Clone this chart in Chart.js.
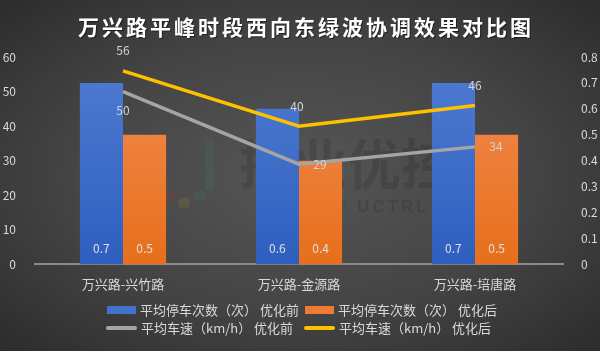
<!DOCTYPE html>
<html>
<head>
<meta charset="utf-8">
<script src="https://cdn.jsdelivr.net/npm/chart.js@4.4.0/dist/chart.umd.min.js"></script>
<style>
  html, body { margin: 0; padding: 0; }
  body {
    width: 600px; height: 351px; overflow: hidden; position: relative;
    background: radial-gradient(ellipse at 50% 50%, #565656 0%, #444 55%, #2c2c2c 100%);
    font-family: "Noto Sans CJK SC", sans-serif;
  }
  #legend {
    position: absolute; left: 107px; top: 301px;
    display: grid; grid-template-columns: 198px auto;
    color: #d9d9d9; font-size: 13px; line-height: 18px;
  }
  #legend .item { display: flex; align-items: center; white-space: nowrap; }
  #legend .sw { margin-right: 4px; }
</style>
</head>
<body>
<canvas id="chart" width="600" height="351"></canvas>
<div id="legend"></div>
<script>
const categories = ['万兴路-兴竹路', '万兴路-金源路', '万兴路-培唐路'];
const stopsBefore = [0.7, 0.6, 0.7];
const stopsAfter = [0.5, 0.4, 0.5];
const speedBefore = [50, 29, 34];
const speedAfter = [56, 40, 46];
const leftTicks = [0, 10, 20, 30, 40, 50, 60];
const rightTicks = [0, 0.1, 0.2, 0.3, 0.4, 0.5, 0.6, 0.7, 0.8];

const chartTitle = '万兴路平峰时段西向东绿波协调效果对比图';
const seriesNames = ['平均停车次数（次） 优化前', '平均停车次数（次） 优化后', '平均车速（km/h） 优化前', '平均车速（km/h） 优化后'];

function barGradient(top, bottom) {
  return function (ctx) {
    const area = ctx.chart.chartArea;
    if (!area) return bottom;
    const g = ctx.chart.ctx.createLinearGradient(0, area.top, 0, area.bottom);
    g.addColorStop(0, top);
    g.addColorStop(1, bottom);
    return g;
  };
}

// data labels: bars at the bottom inside, lines with per-point offsets
const valueLabels = {
  id: 'valueLabels',
  afterDatasetsDraw(chart) {
    const ctx = chart.ctx;
    ctx.save();
    ctx.font = '12px "Noto Sans CJK SC"';
    ctx.textAlign = 'center';
    ctx.textBaseline = 'middle';
    chart.data.datasets.forEach((ds, i) => {
      const meta = chart.getDatasetMeta(i);
      meta.data.forEach((el, j) => {
        const v = ds.data[j];
        if (ds.type === 'bar') {
          ctx.fillStyle = '#e0e0e0';
          ctx.fillText(v, el.x, el.base - 16);
        } else {
          const off = ds.labelOffset[j];
          ctx.fillStyle = '#d4d4d4';
          ctx.fillText(v, el.x + off[0], el.y + off[1]);
        }
      });
    });
    ctx.restore();
  }
};

// title with letter spacing (chart.js title has none)
const spacedTitle = {
  id: 'spacedTitle',
  afterDraw(chart) {
    const ctx = chart.ctx;
    ctx.save();
    ctx.letterSpacing = '3px';
    ctx.font = 'bold 21px "Noto Sans CJK SC"';
    ctx.textAlign = 'center';
    ctx.textBaseline = 'middle';
    ctx.fillStyle = 'rgba(0,0,0,0.5)';
    ctx.fillText(chartTitle, 307, 28);
    ctx.fillStyle = '#ffffff';
    ctx.fillText(chartTitle, 306, 27);
    ctx.restore();
  }
};

const watermark = {
  id: 'watermark',
  beforeDatasetsDraw(chart) {
    const ctx = chart.ctx;
    ctx.save();
    ctx.globalAlpha = 0.12;
    ctx.fillStyle = '#d04020';
    ctx.fillRect(150, 138, 9, 58);
    ctx.fillStyle = '#30a050';
    ctx.fillRect(205, 138, 9, 52);
    ctx.beginPath(); ctx.arc(171, 196, 6, 0, Math.PI * 2); ctx.fillStyle = '#d03020'; ctx.fill();
    ctx.beginPath(); ctx.arc(184, 203, 6, 0, Math.PI * 2); ctx.fillStyle = '#e0b020'; ctx.fill();
    ctx.beginPath(); ctx.arc(200, 196, 6, 0, Math.PI * 2); ctx.fillStyle = '#30a050'; ctx.fill();
    ctx.globalAlpha = 1;
    ctx.fillStyle = 'rgba(0,0,0,0.12)';
    ctx.textAlign = 'center';
    ctx.textBaseline = 'middle';
    ctx.font = 'bold 54px "Noto Sans CJK SC"';
    ctx.fillText('振业优控', 347, 164);
    ctx.letterSpacing = '3px';
    ctx.font = 'bold 17px "Liberation Sans"';
    ctx.fillText('ZHENYE UCTRL', 346, 207);
    ctx.restore();
  }
};

const chart = new Chart(document.getElementById('chart'), {
  data: {
    labels: categories,
    datasets: [
      { type: 'bar', label: seriesNames[0], data: stopsBefore, yAxisID: 'y1', order: 2,
        backgroundColor: barGradient('#4f7cd3', '#2e5fbe'), borderWidth: 0, legendColor: '#4372cc' },
      { type: 'bar', label: seriesNames[1], data: stopsAfter, yAxisID: 'y1', order: 2,
        backgroundColor: barGradient('#f28c54', '#e86f1b'), borderWidth: 0, legendColor: '#f07a30' },
      { type: 'line', label: seriesNames[2], data: speedBefore, yAxisID: 'y', order: 1,
        borderColor: '#a5a5a5', backgroundColor: '#a5a5a5', borderWidth: 3.5, pointRadius: 0, tension: 0,
        labelOffset: [[0, 19], [21, 0], [21, 0]] },
      { type: 'line', label: seriesNames[3], data: speedAfter, yAxisID: 'y', order: 1,
        borderColor: '#ffc000', backgroundColor: '#ffc000', borderWidth: 3.5, pointRadius: 0, tension: 0,
        labelOffset: [[0, -20], [-2, -20], [0, -20]] }
    ]
  },
  options: {
    responsive: false,
    animation: false,
    layout: { padding: { left: 0, right: 0, top: 57, bottom: 55 } },
    datasets: { bar: { categoryPercentage: 0.49, barPercentage: 1.0 } },
    plugins: {
      legend: { display: false },
      tooltip: { enabled: false },
      title: { display: false }
    },
    scales: {
      x: {
        grid: { display: false },
        border: { display: true, color: '#8a8a8a', width: 2 },
        ticks: { color: '#d9d9d9', font: { family: '"Noto Sans CJK SC"', size: 13 }, padding: 4 }
      },
      y: {
        position: 'left', min: 0, max: 60,
        afterFit(s) { s.width = 35; },
        afterBuildTicks(s) { s.ticks = leftTicks.map(v => ({ value: v })); },
        grid: { display: false },
        border: { display: false },
        ticks: { color: '#d9d9d9', font: { family: '"Noto Sans CJK SC"', size: 12 }, padding: 11 }
      },
      y1: {
        position: 'right', min: 0, max: 0.8,
        afterFit(s) { s.width = 37; },
        afterBuildTicks(s) { s.ticks = rightTicks.map(v => ({ value: v })); },
        grid: { display: false },
        border: { display: false },
        ticks: { color: '#d9d9d9', font: { family: '"Noto Sans CJK SC"', size: 12 }, padding: 10,
          callback: v => String(Math.round(v * 10) / 10) }
      }
    }
  },
  plugins: [watermark, valueLabels, spacedTitle]
});

// legend built from the datasets, two per row
const legendEl = document.getElementById('legend');
chart.data.datasets.forEach(ds => {
  const item = document.createElement('div');
  item.className = 'item';
  const sw = document.createElement('span');
  sw.className = 'sw';
  if (ds.type === 'bar') {
    sw.style.width = '29px';
    sw.style.height = '8px';
    sw.style.background = ds.legendColor;
  } else {
    sw.style.width = '31px';
    sw.style.height = '4px';
    sw.style.marginLeft = '-1px';
    sw.style.borderRadius = '2px';
    sw.style.background = ds.borderColor;
  }
  item.appendChild(sw);
  const t = document.createElement('span');
  t.textContent = ds.label;
  item.appendChild(t);
  legendEl.appendChild(item);
});
</script>
</body>
</html>
